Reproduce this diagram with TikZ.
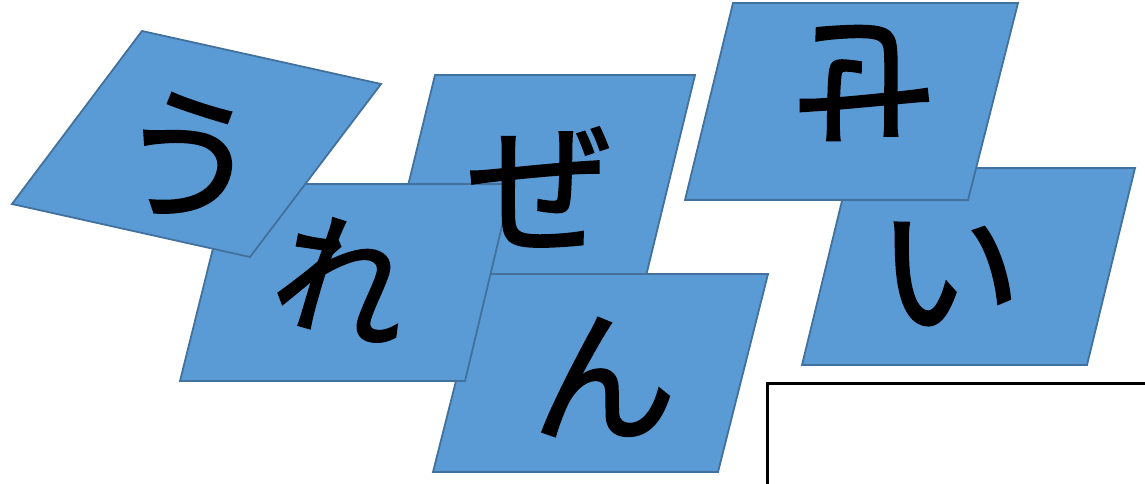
\documentclass[tikz,border=0pt]{standalone}
\usepackage{fontspec}
\newfontfamily\jp[FakeBold=1.6]{Noto Sans CJK JP}
\definecolor{cardfill}{HTML}{5B9BD5}
\definecolor{cardline}{HTML}{41719C}
\tikzset{
  card/.style={fill=cardfill,draw=cardline,line width=1.8pt,line join=miter},
  kana/.style={font=\jp\fontsize{145}{145}\selectfont,inner sep=0pt,text=black},
  frameline/.style={line width=3pt,draw=black}
}
\begin{document}
\begin{tikzpicture}[x=1pt,y=-1pt]
\useasboundingbox (0,0) rectangle (1145,484);
% cards, back to front
\draw[card] (435,75) -- (695,75) -- (646,276) -- (386,276) -- cycle;
\draw[card] (483,274) -- (768,274) -- (718,472) -- (433,472) -- cycle;
\draw[card] (229,184) -- (512,184) -- (465,381) -- (180,381) -- cycle;
\draw[card] (142,31) -- (381,84) -- (250,257) -- (12,204) -- cycle;
\draw[card] (850,168) -- (1135,168) -- (1087,365) -- (802,365) -- cycle;
\draw[card] (733,3) -- (1018,3) -- (968,200) -- (685,200) -- cycle;
% partial frame
\coordinate (fa) at (767,490);
\coordinate (fb) at (767,383);
\coordinate (fc) at (1150,383);
\draw[frameline] (fa) -- (fb) -- (fc);
% letters
\node[kana,rotate=-12] (u) at (188,158) {う};
\node[kana] (ze) at (540,187) {ぜ};
\node[kana,rotate=-16,font=\jp\fontsize{135}{135}\selectfont] (re) at (345,280) {れ};
\node[kana] (n) at (604,377) {ん};
\node[kana,rotate=180] (se) at (862,83) {せ};
\node[kana] (i) at (949,274) {い};
\end{tikzpicture}
\end{document}
